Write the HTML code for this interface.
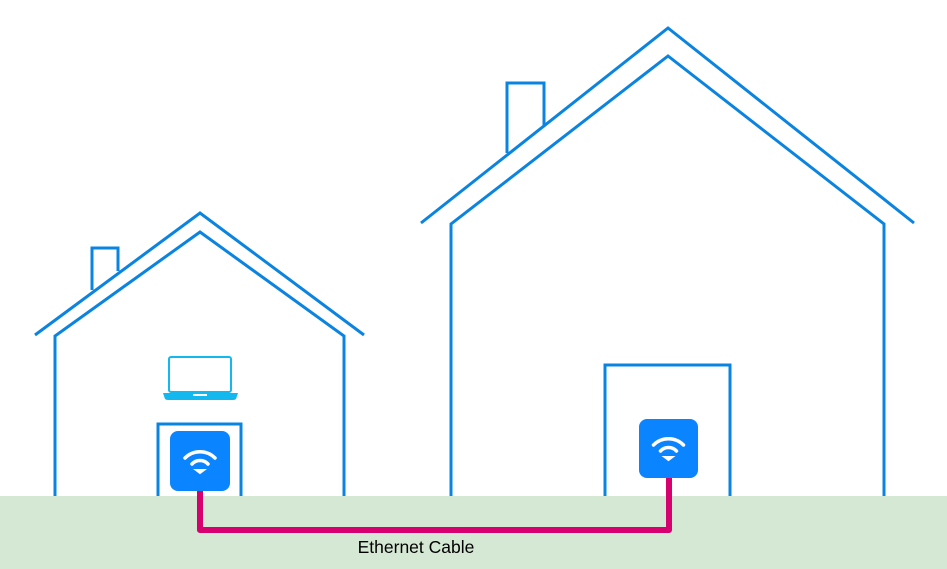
<!DOCTYPE html>
<html><head><style>body{margin:0;background:#fff}svg{display:block}</style></head><body>
<svg width="947" height="569" viewBox="0 0 947 569" xmlns="http://www.w3.org/2000/svg">
<rect x="0" y="496" width="947" height="73" fill="#d5e8d4"/>
<g fill="none" stroke="#0a84e0" stroke-width="3">
<polyline points="35,335 200,213 364,335"/>
<polyline points="55,496 55,336 200,232 344,336 344,496"/>
<polyline points="92,290 92,248 118,248 118,271"/>
<polyline points="158,496 158,424 241,424 241,496"/>
<polyline points="421,223 668,28 914,223"/>
<polyline points="451,496 451,224 668,56 884,224 884,496"/>
<polyline points="507,153 507,83 544,83 544,126"/>
<polyline points="605,496 605,365 730,365 730,496"/>
</g>
<rect x="169" y="357" width="62" height="35" rx="2" fill="#fff" stroke="#12b8ee" stroke-width="2"/>
<path d="M163,393 H238 L236,399 Q235,400 233,400 H168 Q166,400 165,399 Z" fill="#12b8ee"/>
<rect x="193" y="394" width="14" height="2" fill="#fff"/>
<polyline points="200,488 200,530 669,530 669,476" fill="none" stroke="#d6006f" stroke-width="6" stroke-linejoin="round"/>
<g>
<rect x="170" y="431" width="60" height="60" rx="8" fill="#0a84ff"/>
<g transform="translate(200,461)" fill="none" stroke="#fff" stroke-width="3.5" stroke-linecap="round">
<path d="M-15,-3 A21,21 0 0 1 15,-3"/>
<path d="M-8,3 A11,11 0 0 1 8,3"/>
<path d="M-4,9 L0,12 L4,9 Z" fill="#fff" stroke-width="2"/>
</g>
<rect x="639" y="419" width="59" height="59" rx="8" fill="#0a84ff"/>
<g transform="translate(668.5,448)" fill="none" stroke="#fff" stroke-width="3.5" stroke-linecap="round">
<path d="M-15,-3 A21,21 0 0 1 15,-3"/>
<path d="M-8,3 A11,11 0 0 1 8,3"/>
<path d="M-4,9 L0,12 L4,9 Z" fill="#fff" stroke-width="2"/>
</g>
</g>
<text x="416" y="553" text-anchor="middle" font-family="Liberation Sans, sans-serif" font-size="17.5" fill="#000">Ethernet Cable</text>
</svg>
</body></html>
